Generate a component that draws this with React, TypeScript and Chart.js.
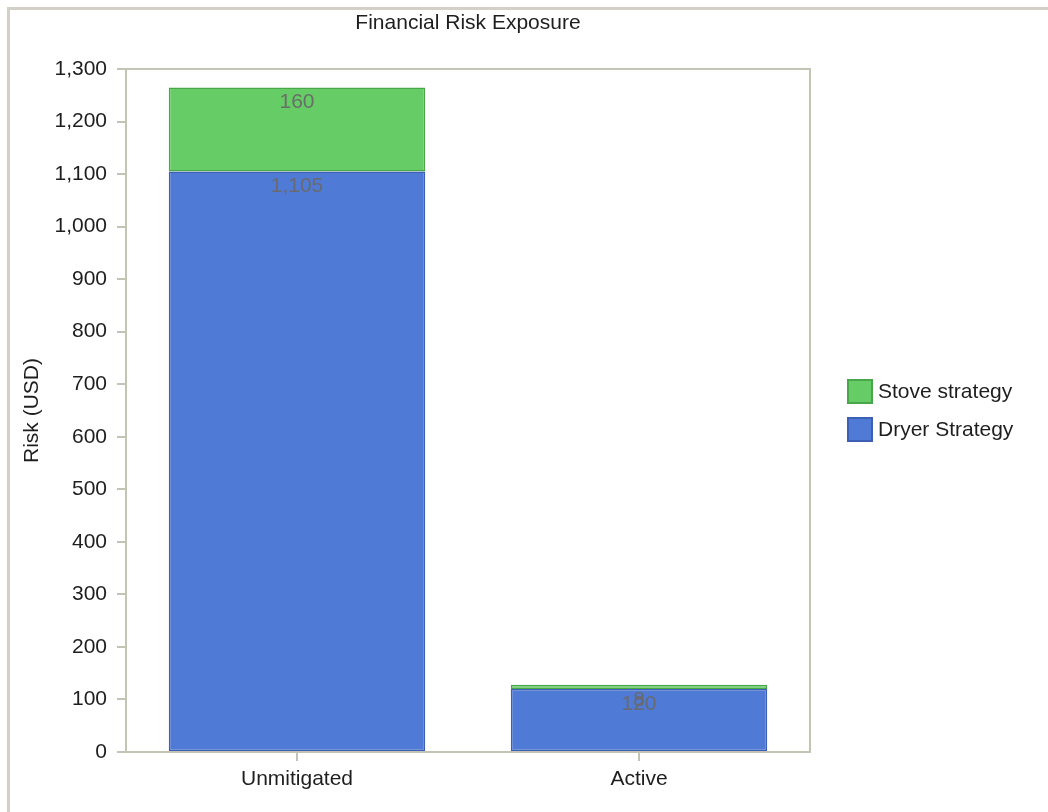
import React, { useEffect, useRef } from "react";
import { Chart, registerables } from "chart.js";

Chart.register(...registerables);

const categories = ["Unmitigated", "Active"];
const dryerValues = [1105, 120];
const stoveValues = [160, 8];
const chartTitle = "Financial Risk Exposure";
const yAxisTitle = "Risk (USD)";
const yMin = 0;
const yMax = 1300;
const yStep = 100;

const FONT = "'Liberation Sans', Arial, sans-serif";
const FRAME = "#c4c4b4";
const TEXT = "#1e1e1e";

const decorPlugin = {
  id: "decor",
  beforeDraw(chart: any) {
    const ctx = chart.ctx;
    ctx.save();
    ctx.fillStyle = "#ffffff";
    ctx.fillRect(0, 0, chart.width, chart.height);
    ctx.strokeStyle = "#d4d0c8";
    ctx.lineWidth = 3;
    ctx.beginPath();
    ctx.moveTo(8.5, chart.height);
    ctx.lineTo(8.5, 8.5);
    ctx.lineTo(chart.width, 8.5);
    ctx.stroke();
    ctx.restore();
  },
  afterDraw(chart: any) {
    const ctx = chart.ctx;
    const a = chart.chartArea;
    ctx.save();
    // plot frame
    ctx.strokeStyle = FRAME;
    ctx.lineWidth = 2;
    ctx.strokeRect(a.left, a.top, a.right - a.left, a.bottom - a.top);
    // title
    ctx.fillStyle = TEXT;
    ctx.font = `21px ${FONT}`;
    ctx.textAlign = "center";
    ctx.textBaseline = "middle";
    ctx.fillText(chartTitle, (a.left + a.right) / 2, 23);
    // data labels
    ctx.fillStyle = "rgba(105,105,105,0.95)";
    chart.data.datasets.forEach((ds: any, di: number) => {
      const meta = chart.getDatasetMeta(di);
      meta.data.forEach((el: any, i: number) => {
        const v = ds.data[i];
        ctx.fillText(Number(v).toLocaleString("en-US"), el.x, el.y + 15);
      });
    });
    // legend (reverse order)
    const items = [...chart.data.datasets].reverse();
    const lx = a.right + 37;
    const cy = (a.top + a.bottom) / 2;
    const rowH = 38;
    const startY = cy - ((items.length - 1) * rowH) / 2;
    ctx.textAlign = "left";
    items.forEach((ds: any, k: number) => {
      const y = startY + k * rowH;
      ctx.fillStyle = ds.backgroundColor;
      ctx.fillRect(lx, y - 12.5, 26, 25);
      ctx.strokeStyle = ds.borderColor;
      ctx.lineWidth = 2;
      ctx.strokeRect(lx + 1, y - 11.5, 24, 23);
      ctx.fillStyle = TEXT;
      ctx.fillText(ds.label, lx + 31, y + 1);
    });
    ctx.restore();
  },
};

export default function App() {
  const ref = useRef<HTMLCanvasElement>(null);
  useEffect(() => {
    if (!ref.current) return;
    const chart = new Chart(ref.current, {
      type: "bar",
      data: {
        labels: categories,
        datasets: [
          {
            label: "Dryer Strategy",
            data: dryerValues,
            backgroundColor: "#4f7ad6",
            borderColor: "#3d60b4",
            borderWidth: 1.5,
            borderSkipped: false,
            barPercentage: 0.75,
            categoryPercentage: 1,
          },
          {
            label: "Stove strategy",
            data: stoveValues,
            backgroundColor: "#66cc66",
            borderColor: "#4aa64a",
            borderWidth: 1.5,
            borderSkipped: false,
            barPercentage: 0.75,
            categoryPercentage: 1,
          },
        ],
      },
      options: {
        responsive: false,
        animation: false,
        layout: { padding: { left: 8, right: 238, top: 69, bottom: 0 } },
        plugins: {
          legend: { display: false },
          title: { display: false },
          tooltip: { enabled: false },
        },
        scales: {
          x: {
            stacked: true,
            afterFit: (s: any) => {
              s.height = 60;
            },
            grid: {
              display: true,
              drawOnChartArea: false,
              offset: false,
              tickLength: 9,
              color: FRAME,
              lineWidth: 2,
            },
            border: { display: false },
            ticks: { color: TEXT, font: { size: 21, family: FONT }, padding: 6 },
          },
          y: {
            stacked: true,
            min: yMin,
            max: yMax,
            afterFit: (s: any) => {
              s.width = 118;
            },
            grid: {
              display: true,
              drawOnChartArea: false,
              tickLength: 9,
              color: FRAME,
              lineWidth: 2,
            },
            border: { display: false },
            ticks: {
              stepSize: yStep,
              color: TEXT,
              font: { size: 21, family: FONT },
              padding: 10,
            },
            title: {
              display: true,
              text: yAxisTitle,
              color: TEXT,
              font: { size: 21, family: FONT },
              padding: { top: 12, bottom: 0 },
            },
          },
        },
      },
      plugins: [decorPlugin],
    });
    return () => chart.destroy();
  }, []);
  return (
    <div style={{ position: "absolute", left: 0, top: 0, width: 1048, height: 812 }}>
      <canvas ref={ref} width={1048} height={812} />
    </div>
  );
}
